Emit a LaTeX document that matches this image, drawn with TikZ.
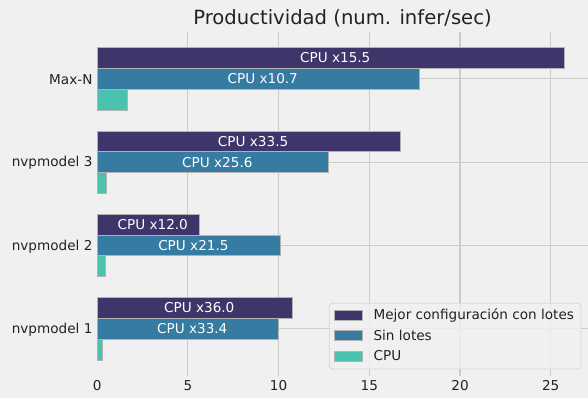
\documentclass[tikz,border=0pt]{standalone}
\usepackage{fontspec}
\setmainfont{DejaVu Sans}
\definecolor{bg}{HTML}{F0F0F0}
\definecolor{gridc}{HTML}{CBCBCB}
\definecolor{batch}{HTML}{3E356B}
\definecolor{nobatch}{HTML}{357BA2}
\definecolor{cpu}{HTML}{4BC2AD}
\definecolor{ink}{HTML}{222222}
\tikzset{
  gridline/.style={draw=gridc, line width=0.8pt},
  bar/.style={draw=black!30, line width=0.5pt},
  barlabel/.style={text=white, font=\fontsize{10.2}{12}\selectfont, inner sep=0pt},
  ticklabel/.style={text=ink, font=\fontsize{10.2}{12}\selectfont, inner sep=0pt},
  legendtext/.style={text=ink, font=\fontsize{10.2}{12}\selectfont, inner sep=0pt, anchor=west},
}
\begin{document}
\begin{tikzpicture}[x=0.75pt, y=-0.75pt]
  % canvas
  \fill[bg] (0,0) rectangle (588,398);
  \useasboundingbox (0,0) rectangle (588,398);

  % title
  \node[text=ink, font=\fontsize{14.7}{17}\selectfont, inner sep=0pt] (title) at (342.5,18) {Productividad (num. infer/sec)};

  % vertical grid and x tick labels
  \foreach \v/\px in {0/97.2, 5/187.9, 10/278.6, 15/369.3, 20/460, 25/550.7} {
    \ifnum\v>0 \draw[gridline] (\px,32) -- (\px,376); \fi
    \node[ticklabel] (xt\v) at (\px,386) {\v};
  }

  % horizontal grid at category centres
  \foreach \yc in {78.8, 162.1, 245.4, 328.7} {
    \draw[gridline] (97.2,\yc) -- (587.7,\yc);
  }

  % bars: centre y / batched end / unbatched end / cpu end / name / batched label / unbatched label
  \foreach \yc/\pp/\pb/\pc/\nm/\lp/\lb/\id in {
      78.8/564.3/419.3/127.0/Max-N/CPU x15.5/CPU x10.7/maxn,
      162.1/400.0/328.5/106.0/nvpmodel 3/CPU x33.5/CPU x25.6/nvpiii,
      245.4/199.3/280.6/105.7/nvpmodel 2/CPU x12.0/CPU x21.5/nvpii,
      328.7/292.3/278.3/102.6/nvpmodel 1/CPU x36.0/CPU x33.4/nvpi} {
    \draw[bar, fill=batch]   (97.2,\yc-31.2) rectangle (\pp,\yc-10.4);
    \draw[bar, fill=nobatch] (97.2,\yc-10.4) rectangle (\pb,\yc+10.4);
    \draw[bar, fill=cpu]     (97.2,\yc+10.4) rectangle (\pc,\yc+31.2);
    \node[barlabel] (lp\id) at ({(97.2+\pp)/2+4.5},\yc-20.8) {\lp};
    \node[barlabel] (lb\id) at ({(97.2+\pb)/2+4.5},\yc) {\lb};
    \node[ticklabel, anchor=east] (yt\id) at (92.7,\yc+1) {\nm};
  }

  % legend
  \draw[draw=gridc!80, fill=bg, fill opacity=0.85, rounded corners=2.5pt, line width=0.6pt]
    (329.3,303.3) rectangle (581,369);
  \draw[bar, fill=batch]   (334.3,310.3) rectangle (362.3,320.3);
  \draw[bar, fill=nobatch] (334.3,330.7) rectangle (362.3,340.7);
  \draw[bar, fill=cpu]     (334.3,351.0) rectangle (362.3,361.0);
  \node[legendtext] (lg1) at (373.3,315.3) {Mejor configuración con lotes};
  \node[legendtext] (lg2) at (373.3,335.7) {Sin lotes};
  \node[legendtext] (lg3) at (373.3,356.0) {CPU};
\end{tikzpicture}
\end{document}
